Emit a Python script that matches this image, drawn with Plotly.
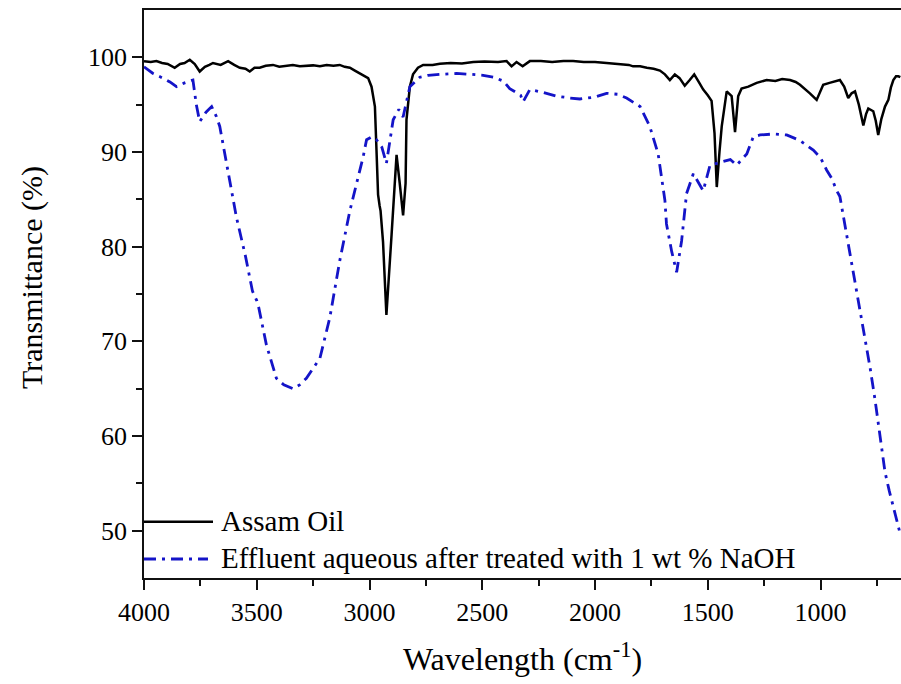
import plotly.graph_objects as go

# Assam Oil spectrum (wavenumber cm^-1, transmittance %)
oil_wn = [4000, 3970, 3945, 3920, 3895, 3864, 3840, 3820, 3797, 3775, 3753, 3730, 3710, 3694,
          3660, 3627, 3600, 3575, 3550, 3531, 3510, 3487, 3460, 3428, 3400, 3370, 3340, 3309,
          3280, 3250, 3220, 3190, 3160, 3132, 3110, 3087, 3065, 3043, 3020, 3006, 2991, 2976,
          2969, 2962, 2955, 2951, 2940, 2925, 2902, 2880, 2866, 2851, 2840, 2836, 2821, 2807,
          2785, 2762, 2720, 2688, 2640, 2590, 2540, 2490, 2430, 2392, 2370, 2348, 2321, 2289,
          2240, 2190, 2140, 2097, 2050, 2000, 1949, 1900, 1850, 1831, 1800, 1770, 1740, 1712,
          1690, 1668, 1646, 1625, 1602, 1580, 1560, 1540, 1520, 1500, 1483, 1470, 1460, 1448,
          1438, 1416, 1394, 1379, 1365, 1350, 1320, 1283, 1239, 1200, 1170, 1135, 1110, 1091,
          1070, 1047, 1017, 1000, 988, 960, 935, 914, 895, 877, 862, 847, 830, 810, 798, 788,
          766, 755, 744, 730, 714, 699, 688, 677, 665, 655, 646]
oil_t = [99.6, 99.5, 99.6, 99.4, 99.3, 98.9, 99.3, 99.4, 99.75, 99.3, 98.5, 99.0, 99.2, 99.4,
         99.2, 99.6, 99.2, 98.9, 98.8, 98.5, 98.9, 98.9, 99.1, 99.2, 99.0, 99.1, 99.2, 99.05,
         99.1, 99.15, 99.05, 99.2, 99.1, 99.2, 99.0, 98.9, 98.6, 98.3, 98.0, 97.8, 96.9, 94.8,
         90.2, 85.5, 84.3, 83.8, 80.5, 72.8, 81.3, 89.7, 86.7, 83.3, 86.7, 93.4, 96.9, 98.2,
         98.9, 99.2, 99.2, 99.33, 99.4, 99.35, 99.5, 99.55, 99.5, 99.6, 99.05, 99.5, 99.05, 99.6,
         99.6, 99.5, 99.6, 99.6, 99.5, 99.5, 99.4, 99.3, 99.2, 99.05, 99.05, 98.9, 98.8, 98.6,
         98.2, 97.6, 98.2, 97.8, 97.0, 97.6, 98.2, 97.4, 96.6, 96.0, 95.4, 92.0, 86.3, 90.0,
         92.7, 96.4, 95.9, 92.1, 95.9, 96.7, 96.9, 97.3, 97.6, 97.5, 97.7, 97.6, 97.4, 97.1,
         96.7, 96.2, 95.5, 96.5, 97.1, 97.3, 97.5, 97.6, 96.9, 95.7, 96.2, 96.4, 95.0, 92.8,
         94.0, 94.6, 94.3, 93.3, 91.8, 93.5, 94.8, 95.5, 96.8, 97.6, 98.0, 98.0, 97.9]

# Effluent aqueous after treated with 1 wt % NaOH
eff_wn = [4000, 3960, 3916, 3885, 3856, 3820, 3783, 3768, 3753, 3725, 3700, 3680, 3664, 3640,
          3605, 3590, 3550, 3519, 3500, 3494, 3457, 3413, 3380, 3339, 3310, 3280, 3220, 3176,
          3132, 3087, 3028, 3013, 2990, 2969, 2945, 2925, 2895, 2870, 2851, 2821, 2777, 2740,
          2688, 2614, 2550, 2496, 2450, 2407, 2378, 2330, 2319, 2289, 2230, 2170, 2110, 2067,
          2000, 1949, 1900, 1860, 1800, 1757, 1720, 1690, 1683, 1660, 1638, 1616, 1594, 1564,
          1520, 1490, 1446, 1400, 1372, 1327, 1298, 1268, 1210, 1150, 1090, 1032, 1000, 973,
          950, 928, 914, 884, 839, 810, 780, 758, 735, 714, 695, 678, 648]
eff_t = [99.0, 98.3, 97.8, 97.4, 96.9, 97.3, 97.6, 95.0, 93.2, 94.2, 94.8, 93.8, 92.7, 89.5,
         84.9, 83.1, 79.0, 75.3, 74.3, 73.9, 69.6, 66.1, 65.4, 65.0, 65.4, 66.1, 68.2, 72.5,
         78.5, 83.8, 89.5, 91.3, 91.6, 91.3, 90.5, 88.8, 93.4, 94.5, 93.7, 96.9, 97.9, 98.1,
         98.2, 98.3, 98.2, 98.1, 97.9, 97.5, 96.7, 96.0, 95.3, 96.6, 96.3, 95.9, 95.7, 95.6,
         95.8, 96.2, 96.1, 95.7, 94.8, 92.7, 89.8, 84.9, 82.4, 79.5, 77.3, 80.6, 85.6, 87.7,
         85.9, 88.6, 88.9, 89.2, 88.6, 89.8, 91.6, 91.8, 91.9, 91.8, 91.2, 90.2, 89.4, 88.1,
         87.2, 85.9, 85.3, 81.3, 75.3, 71.1, 67.2, 63.8, 59.8, 56.2, 54.2, 52.5, 49.8]

x_ticks = [4000, 3500, 3000, 2500, 2000, 1500, 1000]
x_minor = [3750, 3250, 2750, 2250, 1750, 1250, 750]
y_ticks = [50, 60, 70, 80, 90, 100]
y_minor = [55, 65, 75, 85, 95]

names = ["Assam Oil", "Effluent aqueous after treated with 1 wt % NaOH"]
colors = ["#000000", "#1414c8"]
FONT = "Times New Roman, Liberation Serif, DejaVu Serif, serif"

fig = go.Figure()
fig.add_trace(go.Scatter(x=oil_wn, y=oil_t, mode="lines", name=names[0],
                         line=dict(color=colors[0], width=2.5), showlegend=False))
fig.add_trace(go.Scatter(x=eff_wn, y=eff_t, mode="lines", name=names[1],
                         line=dict(color=colors[1], width=2.8, dash="12px,6px,3px,6px"),
                         showlegend=False))

W_PLOT = 901 - 144
H_PLOT = 684 - 10 - 106

def px_x(p):
    return (p - 144) / W_PLOT

def px_y(p):
    return (684 - 106 - p) / H_PLOT

# manual legend (lines + text)
fig.add_shape(type="line", xref="paper", yref="paper", x0=0, x1=px_x(213),
              y0=px_y(521.7), y1=px_y(521.7), line=dict(color=colors[0], width=2.5))
fig.add_shape(type="line", xref="paper", yref="paper", x0=0, x1=px_x(208),
              y0=px_y(559), y1=px_y(559),
              line=dict(color=colors[1], width=2.8, dash="12px,6px,3px,6px"))
for i, yy in enumerate([520.5, 557.5]):
    fig.add_annotation(xref="paper", yref="paper", x=px_x(219), y=px_y(yy),
                       xanchor="left", yanchor="middle", text=names[i], showarrow=False,
                       font=dict(family=FONT, size=29, color="black"))

# y-axis title as annotation (placed like the reference)
fig.add_annotation(xref="paper", yref="paper", x=px_x(32), y=px_y(277),
                   xanchor="center", yanchor="middle", textangle=-90, showarrow=False,
                   text="Transmittance (%)", font=dict(family=FONT, size=30, color="black"))

axis_common = dict(showgrid=False, zeroline=False, showline=True, linecolor="#111111",
                   linewidth=1.5, ticks="outside", ticklen=10, tickwidth=1.5,
                   tickcolor="#111111", tickfont=dict(family=FONT, size=26, color="black"))

fig.update_layout(
    width=901, height=684,
    margin=dict(l=144, r=0, t=10, b=106),
    paper_bgcolor="white", plot_bgcolor="white",
    font=dict(family=FONT, color="black"),
    xaxis=dict(range=[4000, 643], tickmode="array", tickvals=x_ticks,
               ticktext=[str(v) for v in x_ticks], mirror=True,
               minor=dict(tickmode="array", tickvals=x_minor, ticks="outside", ticklen=6,
                          tickwidth=1.5, tickcolor="#111111"),
               title=dict(text="Wavelength (cm<sup>-1</sup>)", standoff=22,
                          font=dict(family=FONT, size=32, color="black")),
               **axis_common),
    yaxis=dict(range=[45, 105], tickmode="array", tickvals=y_ticks,
               ticktext=[str(v) for v in y_ticks], mirror=False,
               minor=dict(tickmode="array", tickvals=y_minor, ticks="outside", ticklen=6,
                          tickwidth=1.5, tickcolor="#111111"),
               **axis_common),
)

fig.write_html("out.html")
